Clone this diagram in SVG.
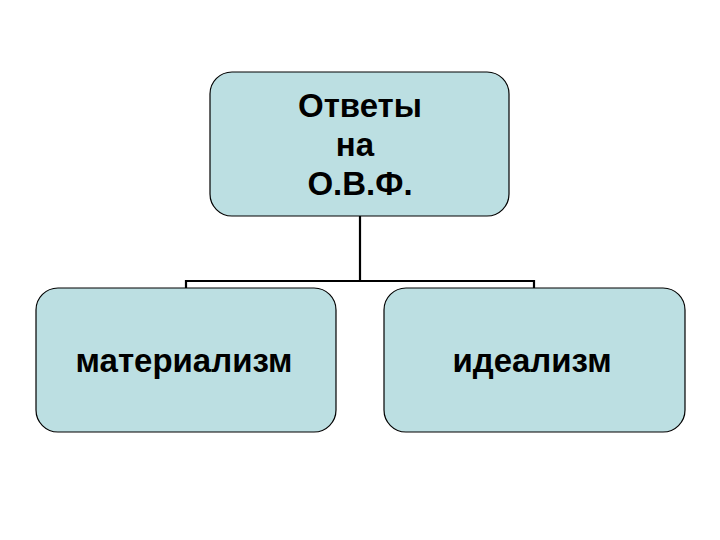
<svg xmlns="http://www.w3.org/2000/svg" width="720" height="540" viewBox="0 0 720 540">
<style>
.box{fill:#BCDFE2;stroke:#000;stroke-width:1.2}
.t{font-family:"Liberation Sans",Arial,sans-serif;font-weight:bold;fill:#000;text-anchor:middle}
.c{fill:none;stroke:#000;stroke-width:2.2}
</style>
<rect width="720" height="540" fill="#fff"/>
<g id="connectors">
<path class="c" d="M360,216 V281"/>
<path class="c" d="M186,288 V281 H534 V288"/>
</g>
<g id="root">
<rect class="box" x="210" y="72" width="299" height="144" rx="22"/>
<text class="t" font-size="33" x="360" y="117">Ответы</text>
<text class="t" font-size="33" x="355" y="156">на</text>
<text class="t" font-size="33" x="360" y="195">О.В.Ф.</text>
</g>
<g id="materialism">
<rect class="box" x="36" y="288" width="300" height="144" rx="22"/>
<text class="t" font-size="33" x="184" y="372">материализм</text>
</g>
<g id="idealism">
<rect class="box" x="384" y="288" width="301" height="144" rx="22"/>
<text class="t" font-size="33" x="532" y="372">идеализм</text>
</g>
</svg>
